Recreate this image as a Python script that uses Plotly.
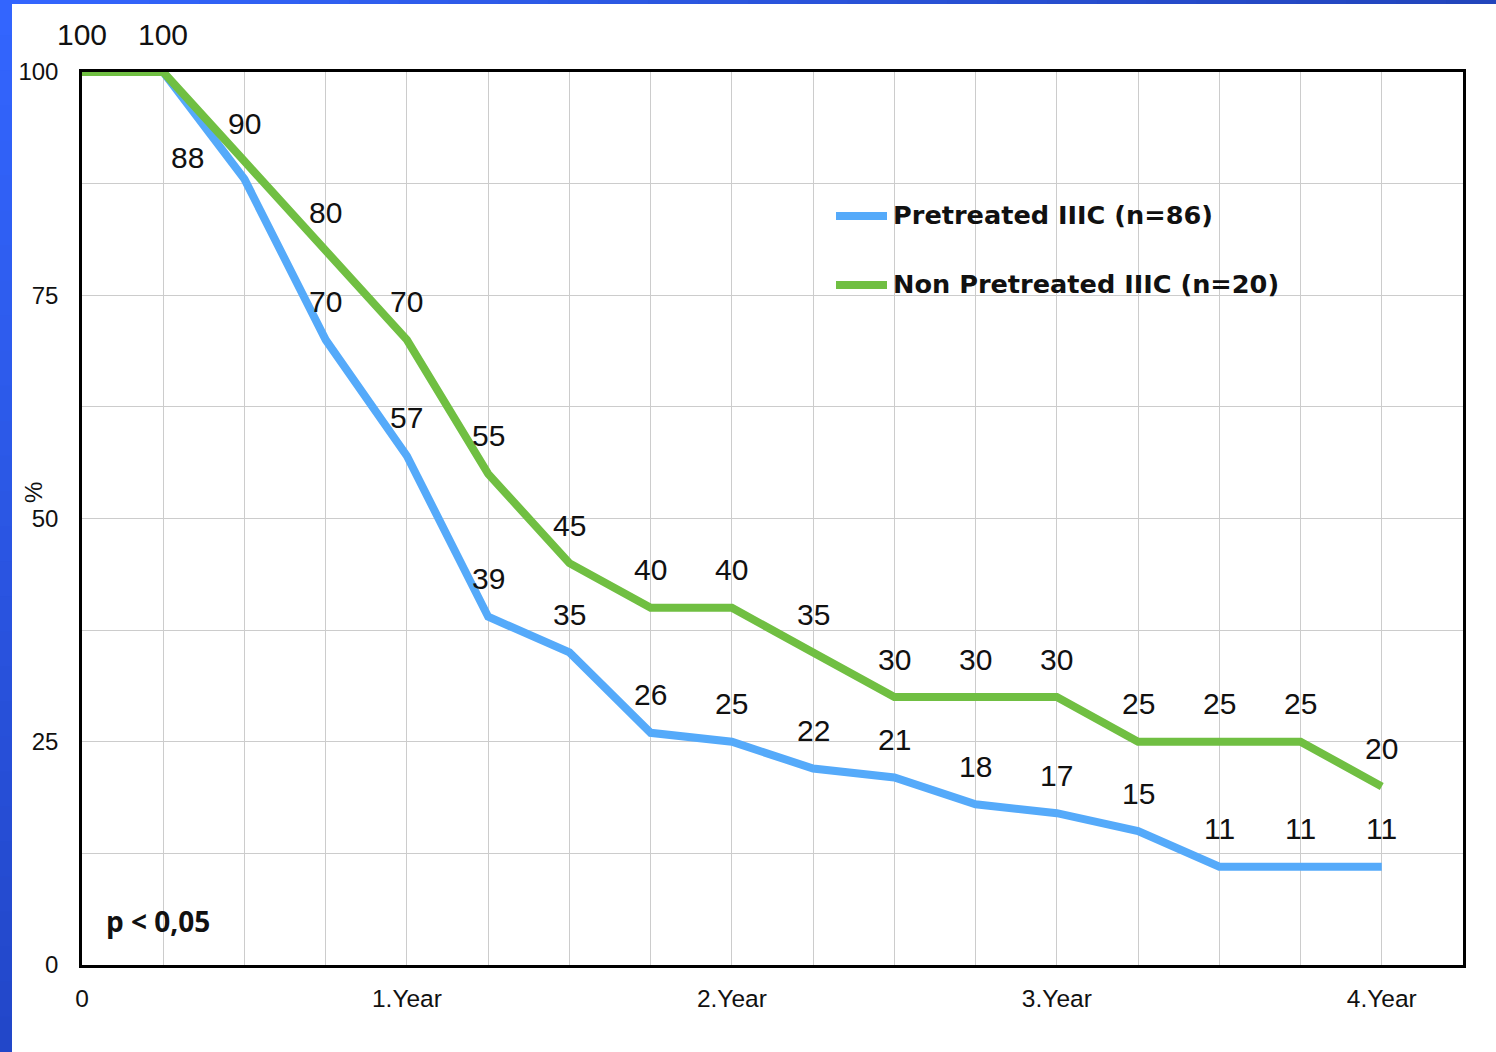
import plotly.graph_objects as go

# Survival (%) by time since treatment, in years (quarterly steps)
years = [0, 0.25, 0.5, 0.75, 1.0, 1.25, 1.5, 1.75, 2.0, 2.25, 2.5, 2.75, 3.0, 3.25, 3.5, 3.75, 4.0]
pretreated = [100, 100, 88, 70, 57, 39, 35, 26, 25, 22, 21, 18, 17, 15, 11, 11, 11]
non_pretreated = [100, 100, 90, 80, 70, 55, 45, 40, 40, 35, 30, 30, 30, 25, 25, 25, 20]

pretreated_name = "Pretreated IIIC (n=86)"
non_pretreated_name = "Non Pretreated IIIC (n=20)"

x_tick_vals = [i * 0.25 for i in range(18)]
x_tick_text = ["0", "", "", "", "1.Year", "", "", "", "2.Year", "", "", "",
               "3.Year", "", "", "", "4.Year", ""]
y_tick_vals = [i * 12.5 for i in range(9)]
y_tick_text = ["0", "", "25", "", "50", "", "75", "", "100"]

p_value_text = "p < 0,05"

BLUE = "#55AAFA"
GREEN = "#70BF42"
TEXT = "#111111"
LABEL_FONT = "Liberation Sans, Arial, sans-serif"

W, H = 1496, 1052
L, R, T, B = 82, 1463, 72, 965


def px_x(px):
    return (px - L) / (R - L)


def px_y(py):
    return (B - py) / (B - T)


fig = go.Figure()
fig.add_trace(go.Scatter(x=years, y=pretreated, mode="lines", name=pretreated_name,
                         line=dict(color=BLUE, width=8), showlegend=False))
fig.add_trace(go.Scatter(x=years, y=non_pretreated, mode="lines", name=non_pretreated_name,
                         line=dict(color=GREEN, width=8), showlegend=False))

annotations = []
# value labels above each point
for i, (x, v) in enumerate(zip(years, non_pretreated)):
    annotations.append(dict(x=x, y=v, xref="x", yref="y", text=str(v), showarrow=False,
                            yshift=38, xanchor="center", yanchor="middle",
                            font=dict(family=LABEL_FONT, size=30, color=TEXT)))
for i, (x, v) in enumerate(zip(years, pretreated)):
    if i < 2:
        continue  # shares the 100 label with the other series
    xs, ys = 0, 38
    if i == 2:
        xs, ys = -57, 22  # moved left to clear the neighbouring label
    annotations.append(dict(x=x, y=v, xref="x", yref="y", text=str(v), showarrow=False,
                            xshift=xs, yshift=ys, xanchor="center", yanchor="middle",
                            font=dict(family=LABEL_FONT, size=30, color=TEXT)))

# legend
shapes = []
for name, color, py in [(pretreated_name, BLUE, 216), (non_pretreated_name, GREEN, 285)]:
    shapes.append(dict(type="line", xref="paper", yref="paper",
                       x0=px_x(836), x1=px_x(887), y0=px_y(py), y1=px_y(py),
                       line=dict(color=color, width=8)))
    annotations.append(dict(x=px_x(891), y=px_y(py - 1), xref="paper", yref="paper",
                            text="<b>%s</b>" % name, showarrow=False,
                            xanchor="left", yanchor="middle",
                            font=dict(family="DejaVu Sans", size=25.6, color=TEXT)))

# p-value note
annotations.append(dict(x=px_x(104), y=px_y(921), xref="paper", yref="paper",
                        text="<b>%s</b>" % p_value_text, showarrow=False,
                        xanchor="left", yanchor="middle",
                        font=dict(family="Open Sans", size=28, color=TEXT)))

# y-axis title
annotations.append(dict(x=px_x(33), y=px_y(493), xref="paper", yref="paper",
                        text="%", showarrow=False, textangle=-90,
                        xanchor="center", yanchor="middle",
                        font=dict(family=LABEL_FONT, size=24, color=TEXT)))

# blue slide border (left and top), shaded in steps
n = 30
c0 = (51, 102, 255)
c_left_end = (34, 70, 200)
c_top_end = (34, 68, 187)
for k in range(n):
    t = (k + 0.5) / n
    cl = tuple(int(round(a + (b - a) * t)) for a, b in zip(c0, c_left_end))
    shapes.append(dict(type="rect", xref="paper", yref="paper", layer="above",
                       x0=px_x(0), x1=px_x(12),
                       y0=px_y(H * k / n), y1=px_y(H * (k + 1) / n + 1),
                       line=dict(width=0), fillcolor="rgb(%d,%d,%d)" % cl))
    ct = tuple(int(round(a + (b - a) * t)) for a, b in zip(c0, c_top_end))
    shapes.append(dict(type="rect", xref="paper", yref="paper", layer="above",
                       x0=px_x(max(12, W * k / n)), x1=px_x(W * (k + 1) / n + 1),
                       y0=px_y(0), y1=px_y(4),
                       line=dict(width=0), fillcolor="rgb(%d,%d,%d)" % ct))

fig.update_layout(
    width=W, height=H, autosize=False,
    margin=dict(l=L, r=W - R, t=T, b=H - B),
    paper_bgcolor="white", plot_bgcolor="white",
    shapes=shapes, annotations=annotations,
    xaxis=dict(range=[0, 4.25], tickvals=x_tick_vals, ticktext=x_tick_text,
               showgrid=True, gridcolor="#CCCCCC", gridwidth=1, zeroline=False,
               showline=True, linecolor="black", linewidth=2.5, mirror=True,
               ticks="", ticklabelstandoff=10,
               tickfont=dict(family=LABEL_FONT, size=24.5, color=TEXT)),
    yaxis=dict(range=[0, 100], tickvals=y_tick_vals, ticktext=y_tick_text,
               showgrid=True, gridcolor="#CCCCCC", gridwidth=1, zeroline=False,
               showline=True, linecolor="black", linewidth=2.5, mirror=True,
               ticks="", ticklabelstandoff=16,
               tickfont=dict(family=LABEL_FONT, size=24, color=TEXT)),
)

fig.write_html("out.html")
